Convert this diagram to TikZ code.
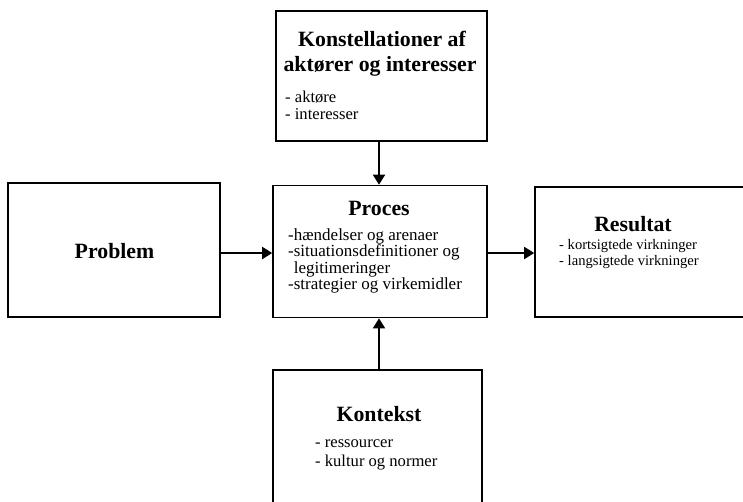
\documentclass[tikz,border=0pt]{standalone}
\usepackage{fontspec}
\setmainfont{Liberation Serif}
\usetikzlibrary{arrows.meta}
\tikzset{
  box/.style={draw, line width=1.6pt, rectangle, inner sep=0pt, fill=white},
  conn/.style={line width=1.8pt, -{Triangle[length=10pt,width=12pt]}},
  ttl/.style={font=\fontsize{21.8}{24}\selectfont\bfseries, anchor=base, inner sep=0pt},
  itm/.style={anchor=base west, inner sep=0pt, align=left},
  itmA/.style={itm, font=\fontsize{16.6}{16}\selectfont},
  itmB/.style={itm, font=\fontsize{17}{16}\selectfont},
  itmC/.style={itm, font=\fontsize{14.6}{16}\selectfont},
}
\begin{document}
\begin{tikzpicture}[x=1pt,y=-1pt]
\useasboundingbox (0,0) rectangle (743,501);
\clip (0,0) rectangle (743,501);
% boxes
\node[box, minimum width=211pt, minimum height=130pt] (akt) at (381.5,76) {};
\node[box, minimum width=212pt, minimum height=134pt] (prob) at (114,250) {};
\node[box, minimum width=214pt, minimum height=132pt] (proc) at (380,251.5) {};
\node[box, minimum width=235pt, minimum height=130pt] (res) at (652.5,252) {};
\node[box, minimum width=209pt, minimum height=150pt] (kon) at (377.5,445) {};
% texts
\node[ttl] (aktT1) at (382,46) {Konstellationer af};
\node[ttl] (aktT2) at (380,71) {aktører og interesser};
\node[itmA] (aktI1) at (285,102) {- aktøre};
\node[itmA] (aktI2) at (285,119) {- interesser};
\node[ttl] (probT) at (114.5,258) {Problem};
\node[ttl] (procT) at (379,215) {Proces};
\node[itmB] (procI1) at (288,240) {-hændelser og arenaer};
\node[itmB] (procI2) at (288,256.5) {-situationsdefinitioner og};
\node[itmB] (procI3) at (288,273) {\phantom{-}legitimeringer};
\node[itmB] (procI4) at (288,289.5) {-strategier og virkemidler};
\node[ttl] (resT) at (633,231) {Resultat};
\node[itmC] (resI1) at (559,249) {- kortsigtede virkninger};
\node[itmC] (resI2) at (559,265) {- langsigtede virkninger};
\node[ttl] (konT) at (379,421) {Kontekst};
\node[itmA] (konI1) at (315,447) {- ressourcer};
\node[itmA] (konI2) at (315,466) {- kultur og normer};
% connectors
\draw[conn] (prob.east |- 0,253) -- (proc.west |- 0,253);
\draw[conn] (proc.east |- 0,253) -- (res.west |- 0,253);
\draw[conn] (akt.south -| 379,0) -- (proc.north -| 379,0);
\draw[conn] (kon.north -| 379,0) -- (proc.south -| 379,0);
\end{tikzpicture}
\end{document}
